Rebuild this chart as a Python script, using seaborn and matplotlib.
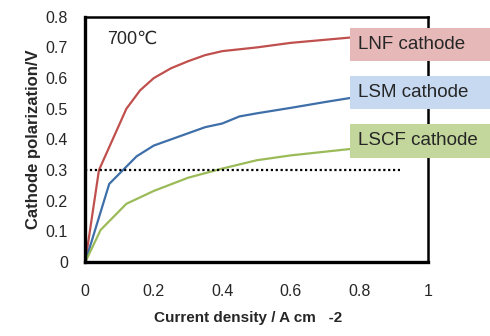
import seaborn as sns
import matplotlib.pyplot as plt
import matplotlib.patches as mpatches
import pandas as pd

# Cathode polarization vs current density at 700 C
lnf_x = [0, 0.04, 0.12, 0.16, 0.20, 0.25, 0.30, 0.35, 0.40, 0.50, 0.60, 0.70, 0.80]
lnf_y = [0, 0.30, 0.50, 0.56, 0.60, 0.632, 0.655, 0.675, 0.688, 0.70, 0.715, 0.725, 0.735]

lsm_x = [0, 0.07, 0.11, 0.15, 0.20, 0.25, 0.30, 0.35, 0.40, 0.45, 0.50, 0.60, 0.70, 0.80]
lsm_y = [0, 0.255, 0.30, 0.345, 0.38, 0.40, 0.42, 0.44, 0.452, 0.475, 0.485, 0.503, 0.522, 0.54]

lscf_x = [0, 0.045, 0.12, 0.20, 0.30, 0.40, 0.50, 0.60, 0.70, 0.80]
lscf_y = [0, 0.105, 0.19, 0.232, 0.275, 0.305, 0.332, 0.348, 0.36, 0.372]

labels = ["LNF cathode", "LSM cathode", "LSCF cathode"]
line_colors = ["#C0504D", "#3F6FA8", "#9BBB59"]
box_colors = ["#E6B9B8", "#C6D9F1", "#C3D69B"]
label_y = [0.711, 0.554, 0.395]

ref_x = [0, 0.92]
ref_y = [0.3, 0.3]

df = pd.DataFrame({
    "x": lnf_x + lsm_x + lscf_x,
    "y": lnf_y + lsm_y + lscf_y,
    "cathode": [labels[0]] * len(lnf_x) + [labels[1]] * len(lsm_x) + [labels[2]] * len(lscf_x),
})

sns.set_style("white")
plt.rcParams['font.family'] = ['Liberation Sans', 'DejaVu Sans']

fig, ax = plt.subplots(figsize=(4.9, 3.36), dpi=100)
plt.subplots_adjust(left=0.174, right=0.873, top=0.95, bottom=0.22)

sns.lineplot(data=df, x="x", y="y", hue="cathode", palette=line_colors,
             linewidth=1.6, sort=False, estimator=None, legend=False, ax=ax)
ax.plot(ref_x, ref_y, color="black", linestyle=(0, (1, 1.2)), linewidth=1.6)

ax.set_xlim(0, 1)
ax.set_ylim(0, 0.8)
ax.set_xticks([0, 0.2, 0.4, 0.6, 0.8, 1])
ax.set_xticklabels(["0", "0.2", "0.4", "0.6", "0.8", "1"])
ax.set_yticks([0, 0.1, 0.2, 0.3, 0.4, 0.5, 0.6, 0.7, 0.8])
ax.set_yticklabels(["0", "0.1", "0.2", "0.3", "0.4", "0.5", "0.6", "0.7", "0.8"])
ax.tick_params(axis="x", direction="in", length=5, width=2, pad=16, labelsize=11.5)
ax.tick_params(axis="y", direction="in", length=5, width=2, pad=12.5, labelsize=11.5)

for side in ["left", "bottom"]:
    ax.spines[side].set_linewidth(2.4)
for side in ["top", "right"]:
    ax.spines[side].set_linewidth(1.8)
for s in ax.spines.values():
    s.set_color("black")

ax.set_xlabel("Current density / A cm   -2", fontsize=11, fontweight="bold", labelpad=12)
ax.xaxis.set_label_coords(0.475, -0.2)
ax.set_ylabel("Cathode polarization/V", fontsize=12, fontweight="bold", labelpad=3)

ax.text(0.065, 0.728, "700\u2103", fontsize=13, va="center")

# label boxes run off the right edge of the figure, all the same width
box_h = 0.108
for lab, bc, ly in zip(labels, box_colors, label_y):
    ax.add_patch(mpatches.Rectangle((0.773, ly - box_h / 2), 0.45, box_h,
                                    facecolor=bc, edgecolor="none",
                                    clip_on=False, zorder=3))
    ax.text(0.795, ly, lab, fontsize=13.5, va="center", ha="left",
            clip_on=False, zorder=4)

plt.savefig("out.png", dpi=100)
plt.close()
